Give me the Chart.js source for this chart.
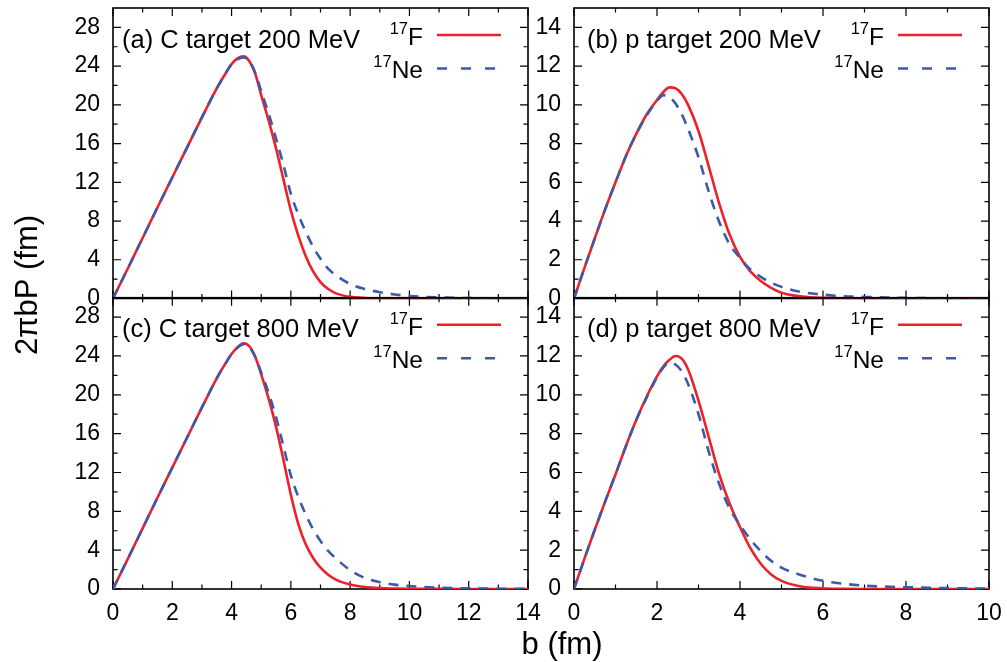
<!DOCTYPE html>
<html>
<head>
<meta charset="utf-8">
<title>2πbP vs b</title>
<script src="https://cdn.jsdelivr.net/npm/chart.js@4.4.1/dist/chart.umd.min.js"></script>
<style>
  html, body { margin: 0; padding: 0; background: #fff; }
  #wrap { position: relative; width: 1007px; height: 662px; overflow: hidden; }
  #wrap canvas { position: absolute; left: 0; top: 0; }
</style>
</head>
<body>
<div id="wrap">
  <canvas id="pa" width="1007" height="662"></canvas>
  <canvas id="pb" width="1007" height="662"></canvas>
  <canvas id="pc" width="1007" height="662"></canvas>
  <canvas id="pd" width="1007" height="662"></canvas>
</div>
<script>
const FONT = "'Liberation Sans', Arial, Helvetica, sans-serif";
const RED = "#ee2029";
const BLUE = "#3b5aa8";
const PAGE_W = 1007, PAGE_H = 662;
const Y_W = 80, X_H = 40;

// impact parameter grids (fm)
const bCarbon = [0, 0.5, 1, 1.5, 2, 2.5, 3, 3.5, 3.75, 4, 4.2, 4.4, 4.6, 4.8, 5, 5.25, 5.5, 5.75,
  6, 6.25, 6.5, 6.75, 7, 7.25, 7.5, 8, 8.5, 9, 9.5, 10, 11, 12, 13, 14];
const bProton = [0, 0.25, 0.5, 0.75, 1, 1.25, 1.5, 1.75, 2, 2.15, 2.3, 2.45, 2.6, 2.75, 3, 3.25,
  3.5, 3.75, 4, 4.25, 4.5, 4.75, 5, 5.5, 6, 6.5, 7, 7.5, 8, 9, 10];

// (a) C target 200 MeV
const fC200 = [0, 3.1, 6.25, 9.4, 12.5, 15.6, 18.7, 21.7, 23.0, 24.2, 24.8, 25.0, 24.5, 23.2, 21.0,
  18.4, 15.5, 12.3, 9.1, 6.5, 4.4, 2.8, 1.7, 1.0, 0.56, 0.17, 0.05, 0.015, 0.005, 0, 0, 0, 0, 0];
const neC200 = [0, 3.1, 6.25, 9.4, 12.5, 15.6, 18.7, 21.7, 23.0, 24.2, 24.7, 24.9, 24.5, 23.3, 21.4,
  19.1, 16.5, 13.8, 10.8, 8.7, 6.9, 5.35, 4.1, 3.1, 2.45, 1.5, 0.98, 0.65, 0.42, 0.26, 0.11, 0.04, 0.015, 0.005];

// (b) p target 200 MeV
const fP200 = [0, 1.57, 3.1, 4.6, 6.0, 7.35, 8.5, 9.5, 10.25, 10.65, 10.9, 10.85, 10.55, 10.0, 8.65,
  6.8, 4.9, 3.3, 2.15, 1.4, 0.9, 0.55, 0.3, 0.1, 0.03, 0.01, 0, 0, 0, 0, 0];
const neP200 = [0, 1.57, 3.1, 4.6, 6.0, 7.35, 8.5, 9.45, 10.2, 10.5, 10.4, 10.05, 9.5, 8.75, 7.3,
  5.5, 3.95, 2.8, 2.1, 1.5, 1.12, 0.82, 0.6, 0.33, 0.2, 0.12, 0.08, 0.05, 0.03, 0.01, 0];

// (c) C target 800 MeV
const fC800 = [0, 3.1, 6.25, 9.4, 12.5, 15.6, 18.7, 21.7, 23.0, 24.2, 24.9, 25.3, 25.0, 23.9, 22.1,
  19.6, 16.7, 13.3, 9.7, 6.7, 4.6, 3.2, 2.2, 1.5, 1.0, 0.46, 0.2, 0.09, 0.05, 0.03, 0.01, 0, 0, 0];
const neC800 = [0, 3.1, 6.25, 9.4, 12.5, 15.6, 18.7, 21.7, 23.0, 24.2, 24.85, 25.2, 24.9, 23.9, 22.3,
  20.2, 17.7, 14.7, 11.7, 9.5, 7.7, 6.15, 4.95, 3.95, 3.2, 1.95, 1.13, 0.7, 0.45, 0.3, 0.14, 0.065, 0.03, 0.01];

// (d) p target 800 MeV
const fP800 = [0, 1.55, 3.05, 4.5, 5.9, 7.35, 8.7, 9.9, 10.95, 11.45, 11.8, 12.0, 11.85, 11.3, 9.7,
  7.8, 5.9, 4.4, 3.19, 2.1, 1.3, 0.75, 0.42, 0.12, 0.04, 0.01, 0, 0, 0, 0, 0];
const neP800 = [0, 1.55, 3.05, 4.5, 5.9, 7.35, 8.7, 9.85, 10.9, 11.4, 11.65, 11.55, 11.2, 10.55, 9.0,
  7.05, 5.4, 4.15, 3.3, 2.55, 1.95, 1.45, 1.1, 0.7, 0.42, 0.27, 0.17, 0.12, 0.09, 0.045, 0.02];

// ticks
const xTicksC = [0, 2, 4, 6, 8, 10, 12, 14];
const xMinorC = [1, 3, 5, 7, 9, 11, 13];
const yTicksC = [0, 4, 8, 12, 16, 20, 24, 28];
const yMinorC = [2, 6, 10, 14, 18, 22, 26];
const xTicksP = [0, 2, 4, 6, 8, 10];
const xMinorP = [1, 3, 5, 7, 9];
const yTicksP = [0, 2, 4, 6, 8, 10, 12, 14];
const yMinorP = [1, 3, 5, 7, 9, 11, 13];

const panels = [
  { id: "pa", label: "(a) C target 200 MeV", b: bCarbon, f: fC200, ne: neC200, xMax: 14, yMax: 30,
    xTicks: xTicksC, xMinor: xMinorC, yTicks: yTicksC, yMinor: yMinorC, showX: false, labelDx: 9,
    area: { left: 113, top: 8, right: 528, bottom: 298.5 } },
  { id: "pb", label: "(b) p target 200 MeV", b: bProton, f: fP200, ne: neP200, xMax: 10, yMax: 15,
    xTicks: xTicksP, xMinor: xMinorP, yTicks: yTicksP, yMinor: yMinorP, showX: false, labelDx: 13,
    area: { left: 574, top: 8, right: 989, bottom: 298.5 } },
  { id: "pc", label: "(c) C target 800 MeV", b: bCarbon, f: fC800, ne: neC800, xMax: 14, yMax: 30,
    xTicks: xTicksC, xMinor: xMinorC, yTicks: yTicksC, yMinor: yMinorC, showX: true, labelDx: 9,
    area: { left: 113, top: 297.7, right: 528, bottom: 589 } },
  { id: "pd", label: "(d) p target 800 MeV", b: bProton, f: fP800, ne: neP800, xMax: 10, yMax: 15,
    xTicks: xTicksP, xMinor: xMinorP, yTicks: yTicksP, yMinor: yMinorP, showX: true, labelDx: 13,
    area: { left: 574, top: 297.7, right: 989, bottom: 589 } }
];

// border, inward ticks, panel label and key
function framePlugin(p) {
  return {
    id: "frame",
    beforeDatasetsDraw(chart) {
      const { ctx, chartArea: a, scales } = chart;
      ctx.save();
      ctx.strokeStyle = "#000";
      ctx.lineWidth = 1.2;
      ctx.beginPath();
      const tick = (vals, len) => {
        vals.forEach((v) => {
          const px = scales.x.getPixelForValue(v);
          ctx.moveTo(px, a.bottom); ctx.lineTo(px, a.bottom - len);
          ctx.moveTo(px, a.top); ctx.lineTo(px, a.top + len);
        });
      };
      const tickY = (vals, len) => {
        vals.forEach((v) => {
          const py = scales.y.getPixelForValue(v);
          ctx.moveTo(a.left, py); ctx.lineTo(a.left + len, py);
          ctx.moveTo(a.right, py); ctx.lineTo(a.right - len, py);
        });
      };
      tick(p.xTicks, 8); tick(p.xMinor, 4.5);
      tickY(p.yTicks, 8); tickY(p.yMinor, 4.5);
      ctx.stroke();
      ctx.lineWidth = 1.6;
      ctx.strokeRect(a.left, a.top, a.right - a.left, a.bottom - a.top);
      ctx.restore();
    },
    afterDraw(chart) {
      const { ctx, chartArea: a } = chart;
      ctx.save();
      ctx.fillStyle = "#000";
      ctx.textBaseline = "alphabetic";
      ctx.textAlign = "left";
      ctx.font = `25.5px ${FONT}`;
      ctx.fillText(p.label, a.left + p.labelDx, a.top + 39.5);

      const tx = a.right - 105;
      const keys = [
        { name: "F", dy: 37, line: 27, color: RED, dash: [] },
        { name: "Ne", dy: 70, line: 60.5, color: BLUE, dash: [10, 14] }
      ];
      keys.forEach((k) => {
        ctx.textAlign = "right";
        ctx.font = `24.5px ${FONT}`;
        ctx.fillText(k.name, tx, a.top + k.dy);
        const w = ctx.measureText(k.name).width;
        ctx.font = `16.5px ${FONT}`;
        ctx.fillText("17", tx - w, a.top + k.dy - 11);
        ctx.strokeStyle = k.color;
        ctx.lineWidth = 2.6;
        ctx.setLineDash(k.dash);
        ctx.beginPath();
        ctx.moveTo(a.right - 91, a.top + k.line);
        ctx.lineTo(a.right - 27, a.top + k.line);
        ctx.stroke();
        ctx.setLineDash([]);
      });
      ctx.restore();
    }
  };
}

const titlePlugin = {
  id: "titles",
  afterDraw(chart) {
    const ctx = chart.ctx;
    ctx.save();
    ctx.fillStyle = "#000";
    ctx.font = `31px ${FONT}`;
    ctx.textAlign = "center";
    ctx.textBaseline = "alphabetic";
    ctx.fillText("b (fm)", 562, 654);
    ctx.translate(37, 285);
    ctx.rotate(-Math.PI / 2);
    ctx.fillText("2πbP (fm)", 0, 0);
    ctx.restore();
  }
};

panels.forEach((p, idx) => {
  const tickFont = { family: FONT, size: 23 };
  const pad = {
    left: p.area.left - Y_W,
    top: p.area.top,
    right: PAGE_W - p.area.right,
    bottom: PAGE_H - p.area.bottom - X_H
  };
  const plugins = [framePlugin(p)];
  if (idx === panels.length - 1) plugins.push(titlePlugin);

  new Chart(document.getElementById(p.id), {
    type: "line",
    data: {
      datasets: [
        {
          label: "17Ne",
          data: p.b.map((b, i) => ({ x: b, y: p.ne[i] })),
          borderColor: BLUE,
          borderDash: [10, 8],
          borderWidth: 2.6,
          order: 0
        },
        {
          label: "17F",
          data: p.b.map((b, i) => ({ x: b, y: p.f[i] })),
          borderColor: RED,
          borderWidth: 2.6,
          order: 1
        }
      ]
    },
    options: {
      responsive: false,
      animation: false,
      layout: { padding: pad },
      elements: {
        point: { radius: 0 },
        line: { cubicInterpolationMode: "monotone", fill: false }
      },
      plugins: { legend: { display: false }, tooltip: { enabled: false } },
      scales: {
        x: {
          type: "linear",
          min: 0,
          max: p.xMax,
          afterBuildTicks: (s) => { s.ticks = p.xTicks.map((v) => ({ value: v })); },
          afterFit: (s) => { s.height = X_H; s.paddingLeft = 0; s.paddingRight = 0; },
          grid: { display: false, drawTicks: false },
          border: { display: false },
          ticks: { display: p.showX, autoSkip: false, maxRotation: 0, padding: 11, color: "#000", font: tickFont }
        },
        y: {
          type: "linear",
          min: 0,
          max: p.yMax,
          afterBuildTicks: (s) => { s.ticks = p.yTicks.map((v) => ({ value: v })); },
          afterFit: (s) => { s.width = Y_W; s.paddingTop = 0; s.paddingBottom = 0; },
          grid: { display: false, drawTicks: false },
          border: { display: false },
          ticks: { autoSkip: false, padding: 13, color: "#000", font: tickFont }
        }
      }
    },
    plugins: plugins
  });
});
</script>
</body>
</html>
